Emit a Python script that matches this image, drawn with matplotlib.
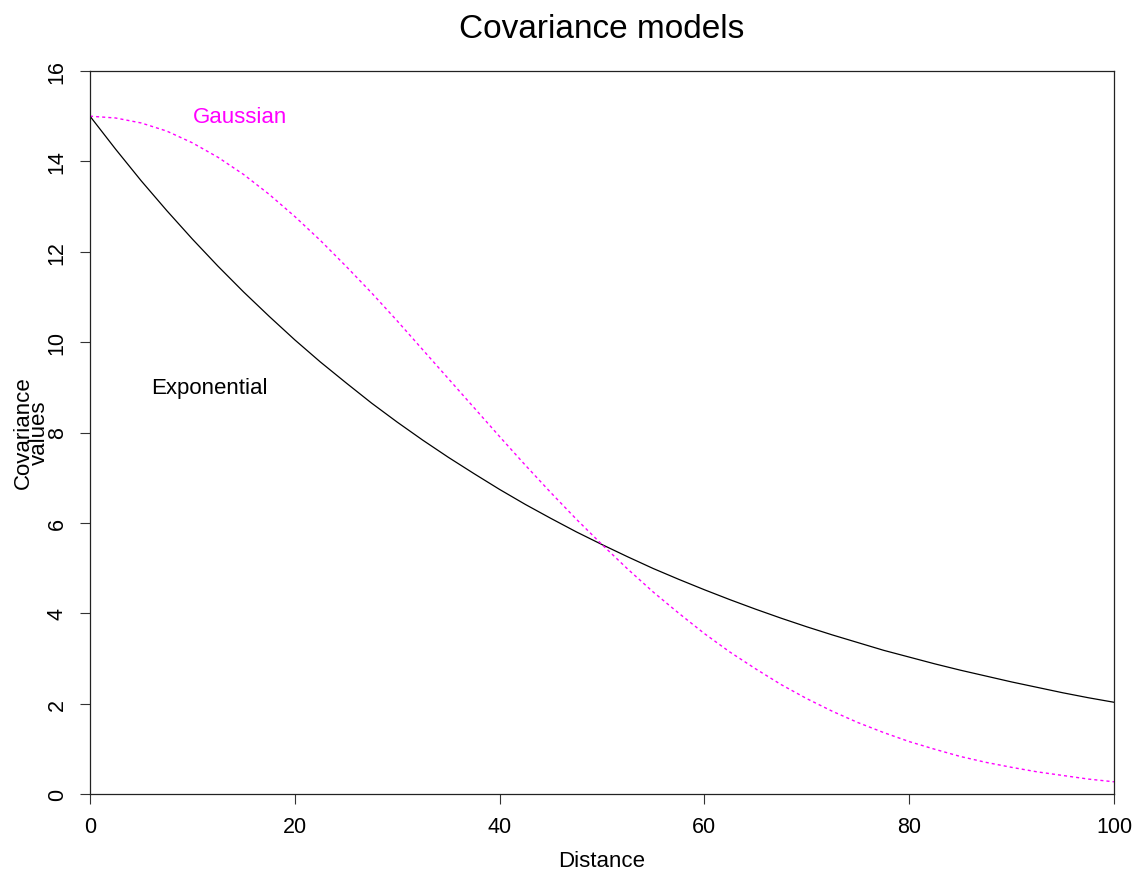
import matplotlib
matplotlib.use("Agg")
import matplotlib.pyplot as plt

plt.rcParams['font.family'] = ['Liberation Sans', 'DejaVu Sans']

# covariance vs distance for the two models
distance = [0, 2.5, 5, 7.5, 10, 12.5, 15, 17.5, 20, 22.5, 25, 27.5, 30, 32.5, 35, 37.5,
            40, 42.5, 45, 47.5, 50, 52.5, 55, 57.5, 60, 62.5, 65, 67.5, 70, 72.5, 75,
            77.5, 80, 82.5, 85, 87.5, 90, 92.5, 95, 97.5, 100]
exponential = [15.00, 14.27, 13.57, 12.91, 12.28, 11.68, 11.11, 10.57, 10.05, 9.56, 9.10,
               8.65, 8.23, 7.83, 7.45, 7.09, 6.74, 6.41, 6.10, 5.80, 5.52, 5.25, 4.99,
               4.75, 4.52, 4.30, 4.09, 3.89, 3.70, 3.52, 3.35, 3.18, 3.03, 2.88, 2.74,
               2.61, 2.48, 2.36, 2.24, 2.13, 2.03]
gaussian = [15.00, 14.96, 14.85, 14.67, 14.41, 14.09, 13.71, 13.27, 12.78, 12.25, 11.68,
            11.09, 10.47, 9.83, 9.19, 8.55, 7.91, 7.28, 6.67, 6.08, 5.52, 4.98, 4.47,
            4.00, 3.55, 3.14, 2.77, 2.42, 2.11, 1.83, 1.58, 1.36, 1.16, 0.99, 0.83,
            0.70, 0.59, 0.49, 0.41, 0.33, 0.27]

x_ticks = [0, 20, 40, 60, 80, 100]
y_ticks = [0, 2, 4, 6, 8, 10, 12, 14, 16]

W, H = 1139, 878
fig = plt.figure(figsize=(W / 100, H / 100), dpi=100)
ax = fig.add_axes([90 / W, 1 - 795 / H, (1114 - 90) / W, (795 - 72) / H])

ax.plot(distance, exponential, color='black', lw=0.9)
ax.plot(distance, gaussian, color='#ff00ff', lw=1.0, linestyle=(0, (2.2, 2.2)))

ax.text(11.7, 9.0, 'Exponential', fontsize=16, color='black', ha='center', va='center')
ax.text(14.6, 15.0, 'Gaussian', fontsize=16, color='#ff00ff', ha='center', va='center')

ax.set_xlim(0, 100)
ax.set_ylim(0, 16)
ax.set_xticks(x_ticks)
ax.set_yticks(y_ticks)
ax.tick_params(direction='out', length=7, width=0.8, pad=9, labelsize=15.5, color='#333333')
ax.tick_params(axis='y', labelrotation=90)
for lab in ax.get_yticklabels():
    lab.set_va('center')
for sp in ax.spines.values():
    sp.set_linewidth(0.9)
    sp.set_color('#222222')

fig.text(602 / W, 1 - 30 / H, 'Covariance models', fontsize=24, ha='center', va='center')
fig.text(602 / W, 1 - 862 / H, 'Distance', fontsize=16, ha='center', va='center')
# two-line y label with tight spacing
fig.text(23 / W, 1 - 433 / H, 'Covariance', fontsize=16, rotation=90, ha='center', va='center')
fig.text(39 / W, 1 - 433 / H, 'values', fontsize=16, rotation=90, ha='center', va='center')

fig.savefig('out.png', dpi=100)
